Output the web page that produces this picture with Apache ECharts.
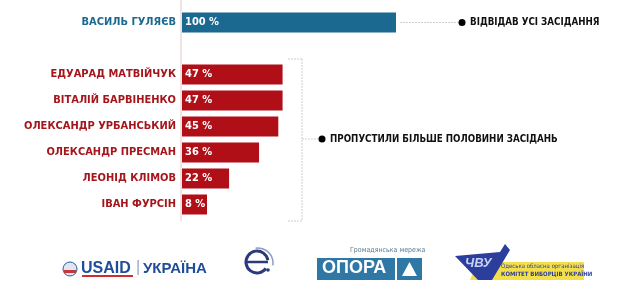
<!DOCTYPE html>
<html>
<head>
<meta charset="utf-8">
<script src="https://cdn.jsdelivr.net/npm/echarts@6/dist/echarts.min.js"></script>
<style>
  html, body { margin: 0; padding: 0; background: #fff; }
  #chart { width: 627px; height: 282px; }
</style>
</head>
<body>
<div id="chart"></div>
<script>
// deputies, top to bottom ('' is the gap row)
const names = ['ВАСИЛЬ ГУЛЯЄВ', '', 'ЕДУАРАД МАТВІЙЧУК', 'ВІТАЛІЙ БАРВІНЕНКО', 'ОЛЕКСАНДР УРБАНСЬКИЙ', 'ОЛЕКСАНДР ПРЕСМАН', 'ЛЕОНІД КЛІМОВ', 'ІВАН ФУРСІН'];
// attendance, %
const attendance = [100, null, 47, 47, 45, 36, 22, 8];
const attendedAll = [true, false, false, false, false, false, false, false];
const notes = ['ВІДВІДАВ УСІ ЗАСІДАННЯ', 'ПРОПУСТИЛИ БІЛЬШЕ ПОЛОВИНИ ЗАСІДАНЬ'];

const BLUE = '#1b6891';
const RED = '#b10f18';
const NAME_RED = '#a5151c';
const FONT = '"DejaVu Sans Condensed", sans-serif';

const chart = echarts.init(document.getElementById('chart'));

const dotted = { stroke: '#cfcfcf', lineWidth: 1, lineDash: [2, 1] };

const options = {
  animation: false,
  grid: { left: 182, top: 9.5, height: 208, width: 214 },
  xAxis: {
    type: 'value', min: 0, max: 100, show: false
  },
  yAxis: {
    type: 'category',
    inverse: true,
    data: names,
    axisLine: { show: false },
    axisTick: { show: false },
    axisLabel: {
      margin: 6,
      fontFamily: FONT,
      fontWeight: 'bold',
      fontSize: 11,
      color: (v, i) => attendedAll[i] ? BLUE : NAME_RED
    }
  },
  series: [{
    type: 'bar',
    barWidth: 20,
    barMinHeight: 25,
    data: attendance.map((v, i) => v === null ? null : {
      value: v,
      itemStyle: { color: attendedAll[i] ? BLUE : RED }
    }),
    label: {
      show: true,
      position: 'insideLeft',
      distance: 3,
      color: '#fff',
      fontFamily: FONT,
      fontWeight: 'bold',
      fontSize: 11,
      formatter: p => p.value + ' %'
    }
  }],
  graphic: [
    // vertical axis line
    { type: 'line', shape: { x1: 181, y1: 0, x2: 181, y2: 221 }, style: { stroke: '#e0c8c8', lineWidth: 1 } },
    // top note
    { type: 'line', shape: { x1: 400, y1: 22.5, x2: 458, y2: 22.5 }, style: dotted },
    { type: 'circle', shape: { cx: 462, cy: 22.5, r: 3.5 }, style: { fill: '#000' } },
    { type: 'text', left: 470, top: 17.5, style: { text: notes[0], fill: '#111', font: 'bold 9.7px ' + FONT } },
    // bracket for the rest
    { type: 'line', shape: { x1: 288, y1: 59, x2: 302, y2: 59 }, style: dotted },
    { type: 'line', shape: { x1: 302, y1: 59, x2: 302, y2: 221 }, style: dotted },
    { type: 'line', shape: { x1: 288, y1: 221, x2: 302, y2: 221 }, style: dotted },
    { type: 'line', shape: { x1: 302, y1: 139, x2: 318, y2: 139 }, style: dotted },
    { type: 'circle', shape: { cx: 322, cy: 139, r: 3.5 }, style: { fill: '#000' } },
    { type: 'text', left: 330, top: 134, style: { text: notes[1], fill: '#111', font: 'bold 9.7px ' + FONT } },

    // logos along the bottom
    { type: 'circle', shape: { cx: 70, cy: 269, r: 7 }, style: { fill: '#dfe6ef', stroke: '#2d5a9a', lineWidth: 1 } },
    { type: 'rect', shape: { x: 64, y: 270, width: 12, height: 3 }, style: { fill: '#c6373a' } },
    { type: 'text', left: 81, top: 261, style: { text: 'USAID', fill: '#1f4d99', font: 'bold 16px "Liberation Sans", sans-serif' } },
    { type: 'rect', shape: { x: 82, y: 275, width: 51, height: 2 }, style: { fill: '#d12b32' } },
    { type: 'text', left: 136, top: 260, style: { text: '|', fill: '#9aa6b5', font: '16px "Liberation Sans", sans-serif' } },
    { type: 'text', left: 143, top: 261, style: { text: 'УКРАЇНА', fill: '#1f4d99', font: 'bold 15px "Liberation Sans", sans-serif' } },

    { type: 'arc', shape: { cx: 257, cy: 262, r: 11, startAngle: Math.PI * 0.2, endAngle: Math.PI * 1.95 }, style: { stroke: '#2b3a7a', lineWidth: 3, fill: null } },
    { type: 'line', shape: { x1: 246, y1: 262, x2: 268, y2: 262 }, style: { stroke: '#2b3a7a', lineWidth: 2.5 } },
    { type: 'arc', shape: { cx: 258, cy: 263, r: 15, startAngle: -Math.PI * 0.55, endAngle: Math.PI * 0.05 }, style: { stroke: '#8f9bbf', lineWidth: 1.5, fill: null } },
    { type: 'circle', shape: { cx: 268, cy: 270, r: 1.8 }, style: { fill: '#2b3a7a' } },

    { type: 'text', left: 350, top: 247, style: { text: 'Громадянська мережа', fill: '#5a7a94', font: '7px "DejaVu Sans Condensed", sans-serif' } },
    { type: 'rect', shape: { x: 317, y: 258, width: 78, height: 22 }, style: { fill: '#2f78a6' } },
    { type: 'text', left: 322, top: 259, style: { text: 'ОПОРА', fill: '#fff', font: 'bold 18px "Liberation Sans", sans-serif' } },
    { type: 'rect', shape: { x: 397, y: 258, width: 25, height: 22 }, style: { fill: '#2f78a6' } },
    { type: 'polygon', shape: { points: [[409.5, 262], [417, 276], [402, 276]] }, style: { fill: '#fff' } },

    { type: 'polygon', shape: { points: [[478, 262], [584, 262], [584, 280], [470, 280]] }, style: { fill: '#f3df4a' } },
    { type: 'polygon', shape: { points: [[455, 256], [500, 252], [505, 244], [510, 250], [492, 280], [478, 280]] }, style: { fill: '#2c3e9c' } },
    { type: 'text', left: 465, top: 257, style: { text: 'ЧВУ', fill: '#c9d2f2', font: 'italic bold 13px "Liberation Sans", sans-serif' } },
    { type: 'text', left: 501, top: 263, style: { text: 'Одеська обласна організація', fill: '#2c3e9c', font: '6px "DejaVu Sans Condensed", sans-serif' } },
    { type: 'text', left: 501, top: 271, style: { text: 'КОМІТЕТ ВИБОРЦІВ УКРАЇНИ', fill: '#2c3e9c', font: 'bold 6px "DejaVu Sans Condensed", sans-serif' } }
  ]
};

chart.setOption(options);
</script>
</body>
</html>
